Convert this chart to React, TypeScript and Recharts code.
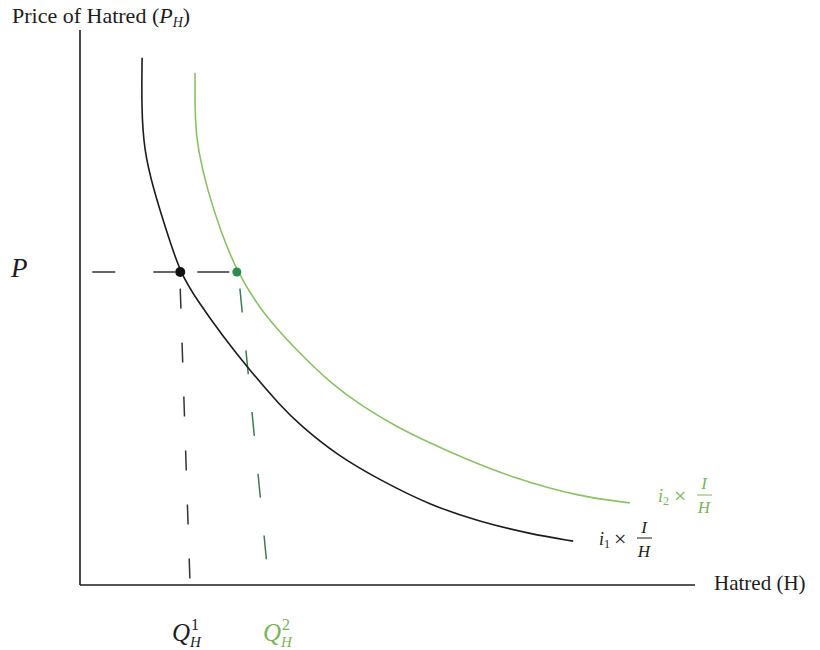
import { LineChart, Line, XAxis, YAxis, ReferenceLine, ReferenceDot } from 'recharts'

// i1 × I/H demand curve (black)
const blackH = [10.1, 10.0, 10.4, 11.9, 14.0, 16.3, 19.0, 23.3, 27.6, 32.5, 35.8, 41.8, 48.8, 56.9, 65.0, 73.2, 80.2]
const blackP = [95.0, 86.1, 78.4, 71.5, 64.0, 56.2, 51.4, 44.7, 38.7, 32.4, 28.8, 23.4, 18.9, 14.4, 11.4, 9.2, 7.9]

// i2 × I/H demand curve (green)
const greenH = [18.7, 18.7, 19.2, 20.7, 22.8, 25.5, 29.8, 35.3, 40.7, 46.0, 51.5, 56.9, 62.3, 70.4, 81.3, 89.4]
const greenP = [92.3, 83.2, 78.4, 71.2, 64.0, 56.4, 48.8, 42.2, 36.4, 32.1, 28.5, 25.6, 22.9, 19.3, 15.9, 14.8]

// price level and the two quantities demanded at it
const priceP = 56.4
const quantities = [16.3, 25.5]
// where the hand-drawn drop lines reach the H axis
const quantityFeet = [17.9, 30.6]
const dropTop = 53.4
const priceLineStart = 2.0

const blackData = blackH.map((h, i) => ({ h, p: blackP[i] }))
const greenData = greenH.map((h, i) => ({ h, p: greenP[i] }))

const INK = '#1c1c1c'
const LIGHT_GREEN = '#8cc068'
const DARK_GREEN = '#2f8a4c'
const LABEL_GREEN = '#7ab35a'

const serif = '"Liberation Serif", "DejaVu Serif", serif'

function Labels() {
  return (
    <svg
      width={820}
      height={650}
      style={{ position: 'absolute', left: 0, top: 0, pointerEvents: 'none' }}
      fontFamily={serif}
    >
      <text x={12} y={23} fontSize={22} fill={INK}>
        Price of Hatred (
        <tspan fontStyle="italic" fontSize={22}>P</tspan>
        <tspan fontStyle="italic" fontSize={14} dy={4}>H</tspan>
        <tspan dy={-4}>)</tspan>
      </text>

      <text x={11} y={277} fontSize={27} fontStyle="italic" fill={INK}>P</text>

      <text x={714} y={590} fontSize={21} fill={INK}>Hatred (H)</text>

      {/* Q_H^1 */}
      <text x={172} y={641} fontSize={25} fontStyle="italic" fill={INK}>Q</text>
      <text x={191} y={630} fontSize={16} fill={INK}>1</text>
      <text x={190} y={647} fontSize={15} fontStyle="italic" fill={INK}>H</text>

      {/* Q_H^2 */}
      <text x={263} y={641} fontSize={25} fontStyle="italic" fill={LABEL_GREEN}>Q</text>
      <text x={282} y={630} fontSize={16} fill={LABEL_GREEN}>2</text>
      <text x={281} y={647} fontSize={15} fontStyle="italic" fill={LABEL_GREEN}>H</text>

      {/* i1 × I/H */}
      <text x={599} y={545} fontSize={18} fontStyle="italic" fill={INK}>i</text>
      <text x={604} y={548} fontSize={12} fill={INK}>1</text>
      <text x={614} y={546} fontSize={22} fill={INK}>×</text>
      <text x={644} y={533} fontSize={17} fontStyle="italic" fill={INK} textAnchor="middle">I</text>
      <line x1={637} x2={652} y1={538} y2={538} stroke={INK} strokeWidth={1} />
      <text x={644} y={557} fontSize={17} fontStyle="italic" fill={INK} textAnchor="middle">H</text>

      {/* i2 × I/H */}
      <text x={658} y={502} fontSize={18} fontStyle="italic" fill={LABEL_GREEN}>i</text>
      <text x={663} y={505} fontSize={12} fill={LABEL_GREEN}>2</text>
      <text x={674} y={503} fontSize={22} fill={LABEL_GREEN}>×</text>
      <text x={704} y={489} fontSize={17} fontStyle="italic" fill={LABEL_GREEN} textAnchor="middle">I</text>
      <line x1={697} x2={712} y1={495} y2={495} stroke={LABEL_GREEN} strokeWidth={1} />
      <text x={704} y={513} fontSize={17} fontStyle="italic" fill={LABEL_GREEN} textAnchor="middle">H</text>
    </svg>
  )
}

export default function App() {
  return (
    <div style={{ position: 'absolute', left: 0, top: 0, width: 820, height: 650, background: '#fff' }}>
      <LineChart width={820} height={650} margin={{ top: 30, right: 125, bottom: 65, left: 80 }}>
        <XAxis type="number" dataKey="h" domain={[0, 100]} allowDataOverflow hide />
        <YAxis type="number" dataKey="p" domain={[0, 100]} allowDataOverflow hide />

        {/* plain L-shaped axes */}
        <ReferenceLine x={0} stroke={INK} strokeWidth={1.6} ifOverflow="visible" />
        <ReferenceLine y={0} stroke={INK} strokeWidth={1.6} ifOverflow="visible" />

        {/* dashed price line */}
        <ReferenceLine
          segment={[
            { x: priceLineStart, y: priceP },
            { x: quantities[1], y: priceP },
          ]}
          stroke="#333"
          strokeWidth={1.5}
          strokeDasharray="23 38 22 22 32"
          ifOverflow="visible"
        />
        {/* drop lines to the quantity axis */}
        <ReferenceLine
          segment={[
            { x: quantities[0], y: dropTop },
            { x: quantityFeet[0], y: 0 },
          ]}
          stroke="#333"
          strokeWidth={1.5}
          strokeDasharray="20 34"
          ifOverflow="visible"
        />
        <ReferenceLine
          segment={[
            { x: quantities[1] + 0.5, y: dropTop },
            { x: quantityFeet[1], y: 1.3 },
          ]}
          stroke="#3d7a55"
          strokeWidth={1.5}
          strokeDasharray="24 38"
          ifOverflow="visible"
        />

        {/* B-spline smooths the hand-drawn curves */}
        <Line
          data={blackData}
          dataKey="p"
          type="basis"
          stroke={INK}
          strokeWidth={1.6}
          dot={false}
          activeDot={false}
          isAnimationActive={false}
        />
        <Line
          data={greenData}
          dataKey="p"
          type="basis"
          stroke={LIGHT_GREEN}
          strokeWidth={1.6}
          dot={false}
          activeDot={false}
          isAnimationActive={false}
        />

        <ReferenceDot x={quantities[0]} y={priceP} r={5} fill="#111" stroke="none" ifOverflow="visible" />
        <ReferenceDot x={quantities[1]} y={priceP} r={4.5} fill={DARK_GREEN} stroke="none" ifOverflow="visible" />
      </LineChart>
      <Labels />
    </div>
  )
}
